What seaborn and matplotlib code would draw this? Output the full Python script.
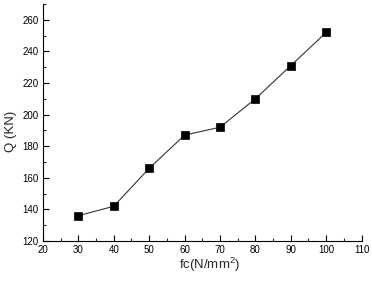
import matplotlib
matplotlib.use("Agg")
import matplotlib.pyplot as plt
import seaborn as sns
import pandas as pd
from matplotlib.ticker import MultipleLocator

fc = [30, 40, 50, 60, 70, 80, 90, 100]
Q = [136, 142, 166, 187, 192, 210, 231, 252]

sns.set_theme(style="white")
plt.rcParams['font.family'] = ['Liberation Sans', 'DejaVu Sans']
plt.rcParams['mathtext.fontset'] = 'custom'
plt.rcParams['mathtext.rm'] = 'Liberation Sans'
plt.rcParams['mathtext.it'] = 'Liberation Sans'
plt.rcParams['mathtext.default'] = 'regular'

df = pd.DataFrame({"fc": fc, "Q": Q})
fig = plt.figure(figsize=(3.72, 2.81), dpi=100)
ax = fig.add_axes([0.1156, 0.1423, 0.8564, 0.8435])
sns.lineplot(data=df, x="fc", y="Q", ax=ax, color="#333333", linewidth=0.8,
             marker="s", markersize=5.5, markerfacecolor="black",
             markeredgecolor="black", markeredgewidth=0.5)
ax.set_xlim(20, 110)
ax.set_ylim(120, 270)
ax.xaxis.set_major_locator(MultipleLocator(10))
ax.xaxis.set_minor_locator(MultipleLocator(5))
ax.yaxis.set_major_locator(MultipleLocator(20))
ax.yaxis.set_minor_locator(MultipleLocator(10))
ax.tick_params(which="major", direction="in", length=4, width=0.8, labelsize=7, colors="black", pad=3)
ax.tick_params(which="minor", direction="in", length=2, width=0.8)
ax.tick_params(axis="x", which="both", bottom=True)
ax.tick_params(axis="y", which="both", left=True)
for s in ["top", "right"]:
    ax.spines[s].set_visible(False)
for s in ["left", "bottom"]:
    ax.spines[s].set_color("black")
    ax.spines[s].set_linewidth(0.8)
ax.set_xlabel("fc(N/mm$^2$)", fontsize=9.5)
ax.set_ylabel("Q (KN)", fontsize=9.5)
ax.xaxis.set_label_coords(0.5235, -0.063)
ax.yaxis.set_label_coords(-0.082, 0.464)
fig.savefig("out.png", dpi=100)
